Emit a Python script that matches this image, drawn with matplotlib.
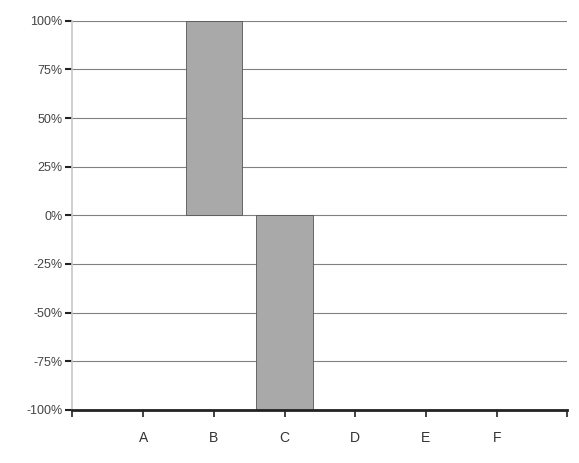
import numpy as np
import matplotlib.pyplot as plt
from matplotlib.ticker import FuncFormatter

plt.rcParams['font.family'] = ['Liberation Sans', 'DejaVu Sans']

categories = ['A', 'B', 'C', 'D', 'E', 'F']
values = [0, 100, -100, 0, 0, 0]
yticks = [-100, -75, -50, -25, 0, 25, 50, 75, 100]

fig = plt.figure(figsize=(5.79, 4.63), dpi=100)
ax = fig.add_axes([0.125, 0.115, 0.855, 0.84])

x = np.arange(1, len(categories) + 1)
# no outline on empty bars
lw = [0.6 if v != 0 else 0 for v in values]
ax.bar(x, values, width=0.8, color='#a9a9a9', edgecolor='#555555', linewidth=lw, zorder=2)

ax.set_xlim(0, 7)
ax.set_ylim(-100, 100)
ax.set_yticks(yticks)
ax.yaxis.set_major_formatter(FuncFormatter(lambda v, p: '%d%%' % v))
ax.set_xticks(range(0, 8))
ax.set_xticklabels([''] + categories + [''])

ax.grid(axis='y', color='#808080', linewidth=0.8, zorder=1)
ax.spines['top'].set_visible(False)
ax.spines['right'].set_visible(False)
ax.spines['left'].set_color('#c8c8c8')
ax.spines['left'].set_linewidth(1.2)
ax.spines['bottom'].set_color('#222222')
ax.spines['bottom'].set_linewidth(2.0)
ax.tick_params(axis='y', direction='out', length=5, width=1.5, color='#222222',
               labelsize=9, labelcolor='#444444', pad=2)
ax.tick_params(axis='x', direction='out', length=5, width=1.2, color='#222222',
               labelsize=10, labelcolor='#333333', pad=10)

fig.savefig('out.png', dpi=100)
